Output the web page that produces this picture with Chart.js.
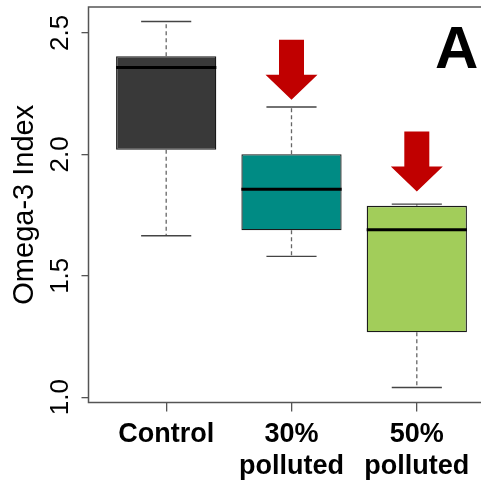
<!DOCTYPE html>
<html><head><meta charset="utf-8">
<script src="https://cdn.jsdelivr.net/npm/chart.js@4"></script>
<style>html,body{margin:0;padding:0;overflow:hidden;background:#fff}#wrap{width:496px;height:482px;position:relative}</style>
</head><body><div id="wrap"><canvas id="c" width="496" height="482"></canvas></div>
<script>
const categories = ['Control', ['30%', 'polluted'], ['50%', 'polluted']];
const positions = [1, 2, 3];
const whiskerLow = [1.665, 1.580, 1.040];
const q1 = [2.019, 1.687, 1.267];
const median = [2.358, 1.856, 1.690];
const q3 = [2.404, 2.001, 1.788];
const whiskerHigh = [2.547, 2.195, 1.795];
const boxColors = ['#393939', '#008B84', '#A2CD5A'];
const arrowTips = [null, 2.225, 1.847];
const yTicks = [1.0, 1.5, 2.0, 2.5];
const yTickLabels = ['1.0', '1.5', '2.0', '2.5'];
const yTitle = 'Omega-3 Index';
const panelLetter = 'A';

const FONT = "'Liberation Sans', Arial, sans-serif";

const extras = {
  id: 'extras',
  afterDatasetsDraw(chart) {
    const ctx = chart.ctx, xs = chart.scales.x, ys = chart.scales.y;
    const meta = chart.getDatasetMeta(0);
    const area = chart.chartArea;
    ctx.save();
    positions.forEach((p, i) => {
      const bar = meta.data[i];
      const half = bar.width / 2;
      const cx = xs.getPixelForValue(p);
      // whiskers
      ctx.strokeStyle = '#666';
      ctx.lineWidth = 1.3;
      ctx.setLineDash([4, 3]);
      ctx.beginPath();
      ctx.moveTo(cx, ys.getPixelForValue(q3[i]));
      ctx.lineTo(cx, ys.getPixelForValue(whiskerHigh[i]));
      ctx.moveTo(cx, ys.getPixelForValue(q1[i]));
      ctx.lineTo(cx, ys.getPixelForValue(whiskerLow[i]));
      ctx.stroke();
      ctx.setLineDash([]);
      ctx.strokeStyle = '#444';
      ctx.lineWidth = 1.4;
      ctx.beginPath();
      [whiskerHigh[i], whiskerLow[i]].forEach(v => {
        const y = ys.getPixelForValue(v);
        ctx.moveTo(cx - half / 2, y);
        ctx.lineTo(cx + half / 2, y);
      });
      ctx.stroke();
      // median
      ctx.strokeStyle = '#000';
      ctx.lineWidth = 3;
      ctx.beginPath();
      const my = ys.getPixelForValue(median[i]);
      ctx.moveTo(cx - half, my);
      ctx.lineTo(cx + half, my);
      ctx.stroke();
      // arrows
      if (arrowTips[i] != null) {
        const ty = ys.getPixelForValue(arrowTips[i]);
        ctx.fillStyle = '#C00000';
        ctx.beginPath();
        ctx.moveTo(cx - 12.5, ty - 60);
        ctx.lineTo(cx + 12.5, ty - 60);
        ctx.lineTo(cx + 12.5, ty - 25);
        ctx.lineTo(cx + 26, ty - 25);
        ctx.lineTo(cx, ty);
        ctx.lineTo(cx - 26, ty - 25);
        ctx.lineTo(cx - 12.5, ty - 25);
        ctx.closePath();
        ctx.fill();
      }
    });
    // frame
    ctx.strokeStyle = '#555';
    ctx.lineWidth = 1.5;
    ctx.strokeRect(area.left, area.top, area.right - area.left, area.bottom - area.top);
    // y tick labels
    ctx.fillStyle = '#000';
    ctx.font = '26px ' + FONT;
    ctx.textAlign = 'center';
    ctx.textBaseline = 'middle';
    yTicks.forEach((v, k) => {
      const y = ys.getPixelForValue(v);
      ctx.save();
      ctx.translate(61, y);
      ctx.rotate(-Math.PI / 2);
      ctx.fillText(yTickLabels[k], 0, 0);
      ctx.restore();
    });
    // panel letter
    ctx.font = 'bold 60px ' + FONT;
    ctx.textAlign = 'left';
    ctx.textBaseline = 'alphabetic';
    ctx.fillText(panelLetter, 435, 68);
    ctx.restore();
  }
};

new Chart(document.getElementById('c'), {
  type: 'bar',
  data: {
    datasets: [{
      data: positions.map((x, i) => ({ x: x, y: [q1[i], q3[i]] })),
      backgroundColor: boxColors,
      borderColor: '#1a1a1a',
      borderWidth: 1.3,
      borderSkipped: false,
      barPercentage: 0.8,
      categoryPercentage: 1
    }]
  },
  options: {
    responsive: false,
    animation: false,
    devicePixelRatio: 1,
    layout: { padding: { top: 7, right: 1.5, left: 0, bottom: 0 } },
    plugins: { legend: { display: false }, tooltip: { enabled: false } },
    scales: {
      x: {
        type: 'linear',
        min: 0.38, max: 3.62,
        offset: false,
        afterBuildTicks: s => { s.ticks = positions.map(v => ({ value: v })); },
        ticks: {
          callback: v => categories[positions.indexOf(v)],
          font: { family: FONT, size: 27, weight: 'bold', lineHeight: 1.18 },
          color: '#000',
          minRotation: 0, maxRotation: 0, autoSkip: false,
          padding: 7
        },
        grid: { display: true, offset: false, drawOnChartArea: false, drawTicks: true, tickLength: 9, color: '#555', lineWidth: 1.3 },
        border: { display: false },
        afterFit: s => { s.height = 79.5; }
      },
      y: {
        type: 'linear',
        min: 0.978, max: 2.607,
        beginAtZero: false,
        afterBuildTicks: s => { s.ticks = yTicks.map(v => ({ value: v })); },
        ticks: { display: false },
        grid: { display: true, drawOnChartArea: false, drawTicks: true, tickLength: 7, color: '#555', lineWidth: 1.3 },
        border: { display: false },
        title: { display: true, text: yTitle, color: '#000', font: { family: FONT, size: 29 }, padding: { top: 8, bottom: 0 } },
        afterFit: s => { s.width = 88.5; }
      }
    }
  },
  plugins: [extras]
});
</script>
</body></html>
